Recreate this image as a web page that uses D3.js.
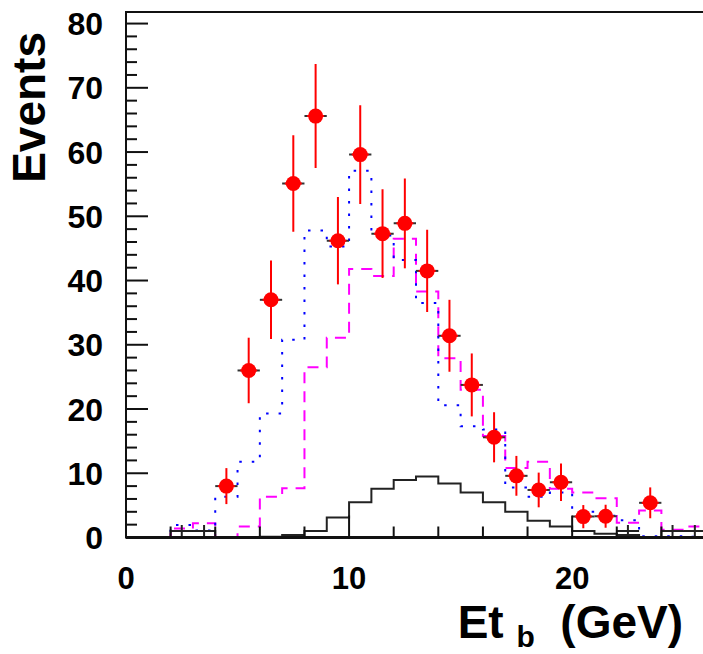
<!DOCTYPE html>
<html>
<head>
<meta charset="utf-8">
<script src="https://cdn.jsdelivr.net/npm/d3@7"></script>
<style>
  body { margin: 0; background: #fff; }
  svg { display: block; }
  text { font-family: "Liberation Sans", Arial, sans-serif; font-weight: bold; fill: #000; }
</style>
</head>
<body>
<script>
// ========== Data ==========
// lower edge of each 1 GeV bin
const binLow = [0, 1, 2, 3, 4, 5, 6, 7, 8, 9, 10, 11, 12, 13, 14, 15, 16, 17, 18, 19, 20, 21, 22, 23, 24, 25];

// blue dotted histogram
const blueHist = [0, 0, 1.95, 1.1, 6.35, 11.8, 19.3, 30.8, 47.8, 45.3, 57.1, 47.0, 43.2, 36.5, 20.6, 17.3,
  16.8, 7.8, 6.35, 7.0, 4.0, 3.4, 2.7, 0.2, 0.2, 0.1];

// magenta dashed histogram
const magentaHist = [0, 0, 1.4, 2.2, 0, 1.7, 6.35, 7.65, 26.5, 31.1, 41.8, 40.7, 46.5, 38.3, 27.9, 23.0,
  15.8, 10.8, 11.8, 7.6, 7.0, 6.1, 2.3, 4.2, 1.2, 1.7];

// black solid histogram
const blackHist = [0, 0, 1.0, 1.0, 0, 0, 0.1, 0.4, 1.0, 3.1, 5.5, 7.6, 8.95, 9.5, 8.4, 7.0,
  5.5, 4.0, 2.6, 1.7, 1.0, 0.6, 0.4, 0.05, 1.0, 1.0];

// data points (red)
const dataX = [4.5, 5.5, 6.5, 7.5, 8.5, 9.5, 10.5, 11.5, 12.5, 13.5, 14.5, 15.5, 16.5, 17.5, 18.5, 19.5, 20.5, 21.5, 23.5];
const dataY = [8.0, 26.0, 37.0, 55.1, 65.6, 46.2, 59.6, 47.3, 48.9, 41.5, 31.4, 23.75, 15.6, 9.6, 7.4, 8.6, 3.25, 3.3, 5.4];
const dataErr = [2.8, 5.1, 6.1, 7.5, 8.1, 6.8, 7.7, 6.9, 7.0, 6.4, 5.6, 4.9, 3.9, 3.1, 2.7, 2.9, 1.8, 1.8, 2.4];

// single-entry bins drawn as black crosses
const crossX = [2.5, 3.5, 22.5, 24.5, 25.5];
const crossY = [1.0, 1.0, 1.0, 1.0, 1.0];
const crossErr = [0.95, 0.95, 0.95, 0.95, 0.95];

// axis labels
const xTickLabels = [0, 10, 20];
const yTickLabels = [0, 10, 20, 30, 40, 50, 60, 70, 80];

// ========== Config ==========
const config = {
  width: 703,
  height: 654,
  frame: { left: 126, right: 706, top: 12, bottom: 537.5 },
  xDomain: [0, 26],
  yDomain: [0, 81.8],
  tick: { major: 22, minor: 11 },
  markerRadius: 7.5
};

// ========== SVG ==========
const svg = d3.select('body')
  .append('svg')
  .attr('width', config.width)
  .attr('height', config.height);

const x = d3.scaleLinear()
  .domain(config.xDomain)
  .range([config.frame.left, config.frame.right]);

const y = d3.scaleLinear()
  .domain(config.yDomain)
  .range([config.frame.bottom, config.frame.top]);

svg.append('clipPath')
  .attr('id', 'plot-clip')
  .append('rect')
  .attr('x', config.frame.left)
  .attr('y', config.frame.top)
  .attr('width', config.frame.right - config.frame.left)
  .attr('height', config.frame.bottom - config.frame.top);

const plot = svg.append('g').attr('clip-path', 'url(#plot-clip)');

// ========== Histograms ==========
function stepPoints(values){
  const pts = values.map((v, i) => [binLow[i], v]);
  pts.push([binLow[binLow.length - 1] + 1, values[values.length - 1]]);
  return pts;
}

const stepLine = d3.line()
  .x(d => x(d[0]))
  .y(d => y(d[1]))
  .curve(d3.curveStepAfter);

plot.append('path')
  .attr('d', stepLine(stepPoints(blackHist)))
  .attr('fill', 'none')
  .attr('stroke', '#222')
  .attr('stroke-width', 2);

plot.append('path')
  .attr('d', stepLine(stepPoints(magentaHist)))
  .attr('fill', 'none')
  .attr('stroke', '#ff00ff')
  .attr('stroke-width', 2)
  .attr('stroke-dasharray', '11,8');

plot.append('path')
  .attr('d', stepLine(stepPoints(blueHist)))
  .attr('fill', 'none')
  .attr('stroke', '#0000ff')
  .attr('stroke-width', 2)
  .attr('stroke-dasharray', '2.5,10');

// ========== Crosses ==========
const crosses = plot.append('g')
  .attr('stroke', '#222')
  .attr('stroke-width', 2);

crossX.forEach((cx, i) =>{
  crosses.append('line')
    .attr('x1', x(cx - 0.5)).attr('x2', x(cx + 0.5))
    .attr('y1', y(crossY[i])).attr('y2', y(crossY[i]));
  crosses.append('line')
    .attr('x1', x(cx)).attr('x2', x(cx))
    .attr('y1', y(crossY[i] + crossErr[i])).attr('y2', y(Math.max(0, crossY[i] - crossErr[i])));
});

// ========== Data Points ==========
const points = plot.append('g');

dataX.forEach((cx, i) =>{
  // black bin-wide bar underneath
  points.append('line')
    .attr('x1', x(cx - 0.5)).attr('x2', x(cx + 0.5))
    .attr('y1', y(dataY[i])).attr('y2', y(dataY[i]))
    .attr('stroke', '#333')
    .attr('stroke-width', 2);
  points.append('line')
    .attr('x1', x(cx - 0.38)).attr('x2', x(cx + 0.38))
    .attr('y1', y(dataY[i])).attr('y2', y(dataY[i]))
    .attr('stroke', '#ff0000')
    .attr('stroke-width', 2);
  points.append('line')
    .attr('x1', x(cx)).attr('x2', x(cx))
    .attr('y1', y(dataY[i] + dataErr[i])).attr('y2', y(dataY[i] - dataErr[i]))
    .attr('stroke', '#ff0000')
    .attr('stroke-width', 2);
  points.append('circle')
    .attr('cx', x(cx))
    .attr('cy', y(dataY[i]))
    .attr('r', config.markerRadius)
    .attr('fill', '#ff0000');
});

// ========== Frame ==========
svg.append('rect')
  .attr('x', config.frame.left)
  .attr('y', config.frame.top)
  .attr('width', config.frame.right - config.frame.left)
  .attr('height', config.frame.bottom - config.frame.top)
  .attr('fill', 'none')
  .attr('stroke', '#111')
  .attr('stroke-width', 2);

// ========== Axes ==========
const axes = svg.append('g').attr('stroke', '#111').attr('stroke-width', 2);

// x ticks every 2 GeV, long ones at labelled values
x.ticks(13).forEach(t =>{
  const len = xTickLabels.includes(t) ? config.tick.major : config.tick.minor;
  axes.append('line')
    .attr('x1', x(t)).attr('x2', x(t))
    .attr('y1', config.frame.bottom).attr('y2', config.frame.bottom - len);
});

// y ticks every 2 events
y.ticks(40).filter(t => t % 2 === 0).forEach(t =>{
  const len = yTickLabels.includes(t) ? config.tick.major : config.tick.minor;
  axes.append('line')
    .attr('x1', config.frame.left).attr('x2', config.frame.left + len)
    .attr('y1', y(t)).attr('y2', y(t));
});

// thicker axis line at the bottom
axes.append('line')
  .attr('x1', config.frame.left).attr('x2', config.frame.right)
  .attr('y1', config.frame.bottom).attr('y2', config.frame.bottom)
  .attr('stroke-width', 3);

// ========== Labels ==========
svg.append('g')
  .selectAll('text')
  .data(xTickLabels)
  .join('text')
  .attr('x', d => x(d))
  .attr('y', 589)
  .attr('text-anchor', 'middle')
  .style('font-size', '31px')
  .text(d => d);

svg.append('g')
  .selectAll('text')
  .data(yTickLabels)
  .join('text')
  .attr('x', 103)
  .attr('y', d => y(d))
  .attr('dy', '0.36em')
  .attr('text-anchor', 'end')
  .style('font-size', '32px')
  .text(d => d);

// Axis titles
svg.append('text')
  .attr('transform', 'translate(45, 32) rotate(-90)')
  .attr('text-anchor', 'end')
  .style('font-size', '46px')
  .text('Events');

const xTitle = svg.append('text')
  .attr('x', 683)
  .attr('y', 638)
  .attr('text-anchor', 'end')
  .style('font-size', '46px');

xTitle.append('tspan').text('Et ');
xTitle.append('tspan')
  .attr('dy', 9)
  .style('font-size', '30px')
  .text('b');
xTitle.append('tspan')
  .attr('dy', -9)
  .text('\u00a0\u00a0(GeV)');
</script>
</body>
</html>
